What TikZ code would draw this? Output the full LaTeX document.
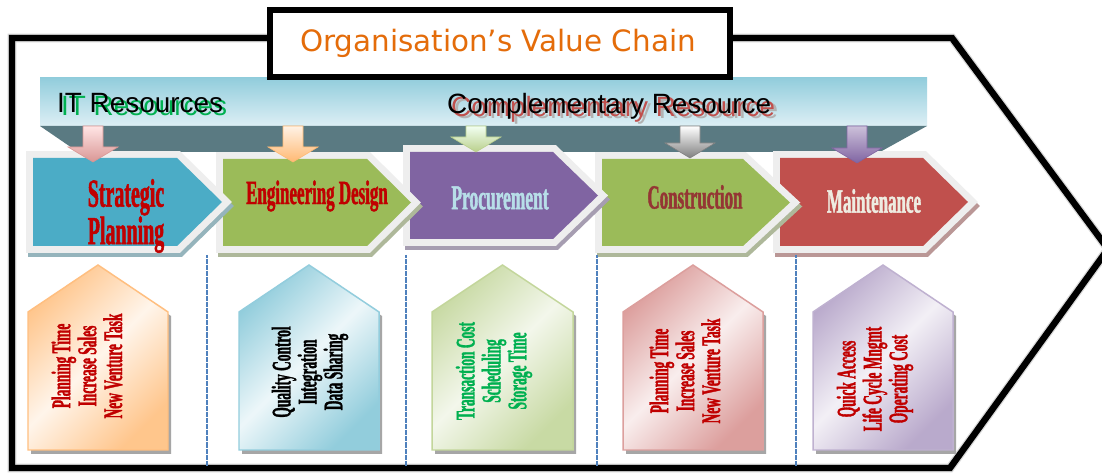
\documentclass[tikz,border=0pt]{standalone}
\usepackage{fontspec}
\newfontfamily\ttlfont{DejaVu Sans}
\newfontfamily\arifont{Liberation Sans}
\newfontfamily\condfont[FakeStretch=0.5,FakeBold=1.2]{Liberation Serif}
\definecolor{ttlorange}{HTML}{E46C0A}
\definecolor{bandtop}{HTML}{92CDDC}
\definecolor{bandbot}{HTML}{DDEFF5}
\definecolor{banddark}{HTML}{5A7A82}
\definecolor{chevgray}{HTML}{EEEEEE}
\definecolor{cblue}{HTML}{4BACC6}
\definecolor{cgreen}{HTML}{9BBB59}
\definecolor{cpurple}{HTML}{8064A2}
\definecolor{cred}{HTML}{C0504D}
\definecolor{dred}{HTML}{C00000}
\definecolor{brred}{HTML}{943634}
\definecolor{ltblue}{HTML}{B7DEE8}
\definecolor{cream}{HTML}{EEECE1}
\definecolor{tgreen}{HTML}{00B050}
\definecolor{dotblue}{HTML}{4F81BD}
\newcommand\chev[6]{%
  \draw[line width=14pt,line join=miter,draw=#6!45!gray!70,fill=#6!45!gray!70,shift={(2,4)}]
    (#1,#2) -- (#4,#2) -- (#5,{(#2+#3)/2}) -- (#4,#3) -- (#1,#3) -- cycle;
  \draw[line width=14pt,line join=miter,draw=chevgray]
    (#1,#2) -- (#4,#2) -- (#5,{(#2+#3)/2}) -- (#4,#3) -- (#1,#3) -- cycle;
  \fill[#6]
    (#1,#2) -- (#4,#2) -- (#5,{(#2+#3)/2}) -- (#4,#3) -- (#1,#3) -- cycle;
}
\newcommand\varrow[4]{% cx tip light dark
  \shade[top color=#3,bottom color=#4,draw=#4,line width=0.6pt]
    ({#1-10},126) -- ({#1+10},126) -- ({#1+10},{#2-15}) -- ({#1+25},{#2-15})
    -- (#1,#2) -- ({#1-25},{#2-15}) -- ({#1-10},{#2-15}) -- cycle;
}
\newcommand\house[6]{% xl xr dark light border name
  \fill[gray!70,shift={(3,4)}] (#1,312) -- ({(#1+#2)/2},265) -- (#2,312) -- (#2,450) -- (#1,450) -- cycle;
  \shade[left color=#3,right color=#3,middle color=#4,shading angle=45,draw=#5,line width=1.5pt]
    (#1,312) -- ({(#1+#2)/2},265) -- (#2,312) -- (#2,450) -- (#1,450) -- cycle;
}
\begin{document}
\begin{tikzpicture}[x=1bp,y=-1bp,
  chevtxt/.style={font=\condfont\bfseries\fontsize{34}{38}\selectfont,align=center,inner sep=0pt},
  housetxt/.style={font=\condfont\bfseries\fontsize{27}{26}\selectfont,align=center,rotate=90,inner sep=0pt},
  sidetxt/.style={font=\arifont\fontsize{28}{32}\selectfont,anchor=base west,inner sep=0pt},
  divider/.style={draw=dotblue,line width=1.3pt,dash pattern=on 0.6pt off 0.6pt}]
\useasboundingbox (0,0) rectangle (1102,473);
\fill[white] (0,0) rectangle (1102,473);
% outer value-chain arrow
\draw[gray!30,line width=9pt,line join=miter]
  (268,38) -- (12,38) -- (12,468) -- (950,468) -- (1108,249) -- (952,38) -- (733,38);
\draw[black,line width=6.5pt,line join=miter]
  (268,38) -- (12,38) -- (12,468) -- (950,468) -- (1108,249) -- (952,38) -- (733,38);
% banner
\shade[top color=bandtop,bottom color=bandbot] (40,78) rectangle (927,126);
\fill[banddark] (40,126) -- (927,126) -- (880,152) -- (78,152) -- cycle;
% title box
\draw[black,line width=6pt,fill=white] (270,10) rectangle (730,77);
\node[font=\ttlfont\fontsize{29.5}{32}\selectfont,text=ttlorange] (title) at (498,43) {Organisation’s Value Chain};
% banner texts
\node[sidetxt,text=tgreen] (itsh) at (61,116) {IT Resources};
\node[sidetxt,text=black] (it) at (57,113) {IT Resources};
\node[sidetxt,text=gray!60] (crsh2) at (454,119) {Complementary Resource};
\node[sidetxt,text=cred] (crsh) at (451,117) {Complementary Resource};
\node[sidetxt,text=black] (cr) at (447,114) {Complementary Resource};
% chevrons (right to left)
\chev{780}{158}{246}{923}{968}{cred}
\chev{602}{159}{246}{743}{790}{cgreen}
\chev{410}{152}{239}{553}{598}{cpurple}
\chev{223}{159}{246}{367}{411}{cgreen}
\chev{33}{158}{246}{177}{222}{cblue}
% small down arrows
\varrow{93}{162}{red!10}{cred!60}
\varrow{293}{162}{orange!10}{orange!55}
\varrow{476}{152}{green!5}{cgreen!70}
\varrow{690}{158}{white}{gray}
\varrow{857}{163}{cpurple!40}{cpurple}
% chevron texts
\node[chevtxt,text=dred,font=\condfont\bfseries\fontsize{40}{35}\selectfont] (sp) at (126,216) {Strategic\\Planning};
\node[chevtxt,text=dred] (ed) at (317,196) {Engineering Design};
\node[chevtxt,text=ltblue,font=\condfont\bfseries\fontsize{35}{38}\selectfont] (pr) at (500,198) {Procurement};
\node[chevtxt,text=brred] (co) at (695,197) {Construction};
\node[chevtxt,text=cream] (ma) at (874,201) {Maintenance};
% dividers
\coordinate (d1t) at (207,255); \coordinate (d1b) at (207,466);
\coordinate (d2t) at (406,255); \coordinate (d2b) at (406,466);
\coordinate (d3t) at (597,255); \coordinate (d3b) at (597,466);
\coordinate (d4t) at (796,255); \coordinate (d4b) at (796,466);
\draw[divider] (d1t) -- (d1b);
\draw[divider] (d2t) -- (d2b);
\draw[divider] (d3t) -- (d3b);
\draw[divider] (d4t) -- (d4b);
% houses
\house{28}{168}{orange!45}{orange!8}{orange!50}{h1}
\house{239}{379}{bandtop}{cblue!10}{cblue!60}{h2}
\house{432}{573}{cgreen!55}{cgreen!12}{cgreen!60}{h3}
\house{623}{763}{cred!55}{cred!10}{cred!55}{h4}
\house{813}{953}{cpurple!55}{cpurple!10}{cpurple!50}{h5}
\node[housetxt,text=dred] (t1) at (87,366) {Planning Time\\Increase Sales\\New Venture Task};
\node[housetxt,text=black] (t2) at (310,372) {Quality Control\\Integration\\Data Sharing};
\node[housetxt,text=tgreen] (t3) at (494,371) {Transaction Cost\\Scheduling\\Storage Time};
\node[housetxt,text=dred] (t4) at (685,371) {Planning Time\\Increase Sales\\New Venture Task};
\node[housetxt,text=dred] (t5) at (875,379) {Quick Access\\Life Cycle Mngmt\\Operating Cost};
\end{tikzpicture}
\end{document}
